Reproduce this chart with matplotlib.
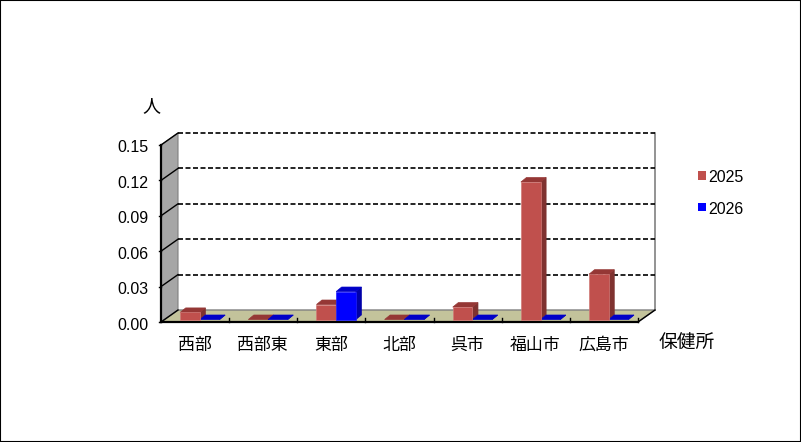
import matplotlib
matplotlib.use("Agg")
import matplotlib.pyplot as plt
from matplotlib.patches import Polygon, Rectangle

plt.rcParams['font.family'] = ['Noto Sans CJK JP', 'DejaVu Sans']

categories = ['西部', '西部東', '東部', '北部', '呉市', '福山市', '広島市']
values_2025 = [0.006, 0.0, 0.0127, 0.0, 0.0105, 0.1165, 0.0384]
values_2026 = [0.0, 0.0, 0.0237, 0.0, 0.0, 0.0, 0.0]
y_ticks = [0.0, 0.03, 0.06, 0.09, 0.12, 0.15]

W, H = 801, 442
x0, x1, y0, y1 = 161, 638, 322, 145  # 前面の枠 (pixel)
px = 7 / (x1 - x0)        # 1pixelあたりのx
py = 0.15 / (y0 - y1)     # 1pixelあたりのy
dx, dy = 17 * px, 12 * py  # 奥行き


def draw_bar(ax, left, width, h, front, side, top, edge):
  base = 2.5 * py
  bx, by = 5.5 * px, 4.5 * py
  r = left + width
  t = base + h
  ax.add_patch(Polygon([(r, base), (r + bx, base + by), (r + bx, t + by), (r, t)],
                       fc=side, ec=side, lw=0.5, clip_on=False, zorder=4))
  ax.add_patch(Polygon([(left, t), (r, t), (r + bx, t + by), (left + bx, t + by)],
                       fc=top, ec=top, lw=0.5, clip_on=False, zorder=4))
  if h > 0:
    ax.bar(left, h, width, bottom=base, align='edge', color=front, edgecolor=edge,
           linewidth=0.5, clip_on=False, zorder=5)


def main():
  fig = plt.figure(figsize=(W / 100, H / 100), dpi=100)
  fig.patch.set_facecolor('white')
  fig.add_artist(Rectangle((0, 0), 1, 1, transform=fig.transFigure, fill=False,
                           ec='black', lw=1.5))
  ax = fig.add_axes([x0 / W, (H - y0) / H, (x1 - x0) / W, (y0 - y1) / H])
  ax.set_xlim(0, 7)
  ax.set_ylim(0, 0.15)
  ax.patch.set_visible(False)
  for s in ax.spines.values():
    s.set_visible(False)

  # 床と壁
  ax.add_patch(Polygon([(0, 0), (7, 0), (7 + dx, dy), (dx, dy)], fc='#C3C39B', ec='#808080',
                       lw=1, clip_on=False, zorder=1))
  ax.add_patch(Polygon([(0, 0), (dx, dy), (dx, 0.15 + dy), (0, 0.15)], fc='#A6A6A6', ec='#808080',
                       lw=0.8, clip_on=False, zorder=1))
  ax.plot([7 + dx, 7 + dx], [dy, 0.15 + dy], color='#808080', lw=1.2, clip_on=False, zorder=1)

  # 目盛線
  for v in y_ticks:
    ax.plot([0, dx], [v, v + dy], color='black', lw=1, clip_on=False, zorder=2)
    if v > 0:
      ax.plot([dx, 7 + dx], [v + dy, v + dy], color='black', lw=1.2, ls=(0, (3, 1.5)),
              clip_on=False, zorder=2)
    ax.plot([-2 * px, 0], [v, v], color='black', lw=1, clip_on=False, zorder=3)
    ax.text(-13 * px, v - 3 * py, '%.2f' % v, ha='right', va='center', fontsize=11.5,
            family=['Liberation Sans'])
  ax.plot([7, 7 + dx], [0, dy], color='black', lw=1, clip_on=False, zorder=2)

  # 軸
  ax.plot([0, 0], [0, 0.15], color='black', lw=1.6, clip_on=False, zorder=3)
  ax.plot([0, 7], [0, 0], color='black', lw=1.6, clip_on=False, zorder=3)
  for i in range(1, 8):
    ax.plot([i, i], [0, 4 * py], color='black', lw=1, clip_on=False, zorder=3)

  # 棒
  width = 19.7 * px
  for i in range(len(categories)):
    left = i + 19.2 * px
    draw_bar(ax, left, width, values_2025[i], '#C0504D', '#7F3230', '#953735', '#D07A77')
    draw_bar(ax, left + width, width, values_2026[i], '#0000FF', '#0000A8', '#0000C8', '#2020FF')

  ax.set_xticks([])
  ax.set_yticks([])
  for i, c in enumerate(categories):
    fig.text((x0 + (i + 0.5) * (x1 - x0) / 7 - 0.5) / W, (H - 345) / H, c, ha='center', va='center',
             fontsize=12.2)
  fig.text(151 / W, (H - 106) / H, '人', ha='center', va='center', fontsize=13)
  fig.text(687 / W, (H - 342) / H, '保健所', ha='center', va='center', fontsize=13.5)

  # 凡例
  for name, col, yy in [('2025', '#C0504D', 175.5), ('2026', '#0000FF', 207)]:
    fig.add_artist(Rectangle((698 / W, (H - yy - 4) / H), 8 / W, 8 / H, fc=col, ec='none',
                             transform=fig.transFigure))
    fig.text(708 / W, (H - yy - 2) / H, name, ha='left', va='center', fontsize=11.5,
             family=['Liberation Sans'])

  fig.savefig('out.png', dpi=100)


if __name__ == '__main__':
  main()
